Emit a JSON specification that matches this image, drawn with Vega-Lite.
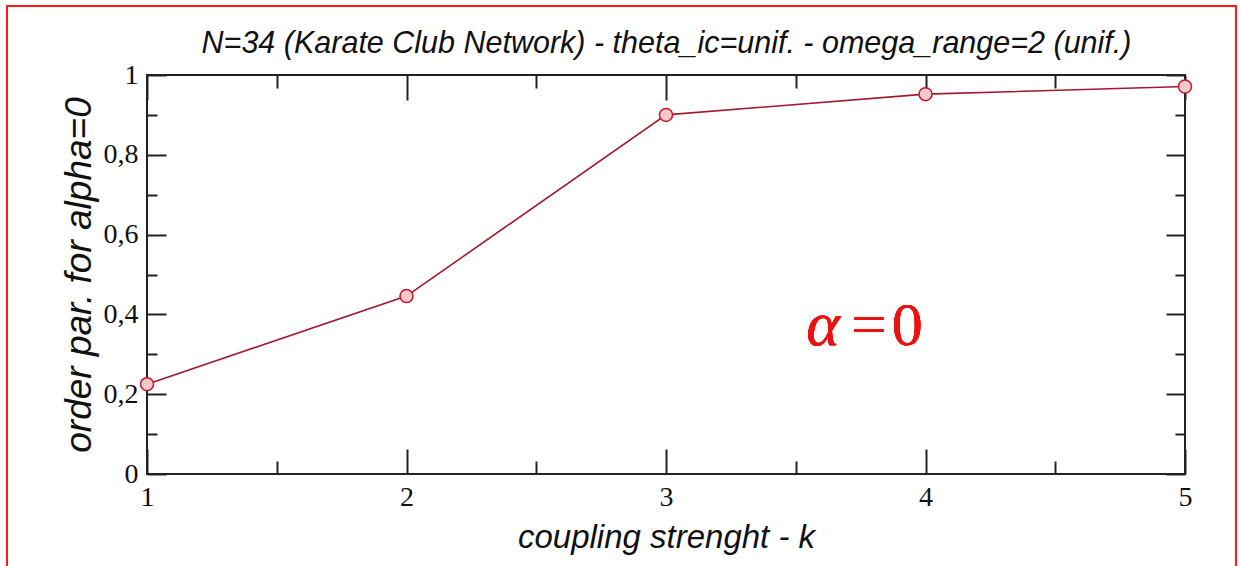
{
  "$schema": "https://vega.github.io/schema/vega-lite/v6.json",
  "width": 1038,
  "height": 399,
  "autosize": {"type": "none"},
  "padding": {"left": 147, "top": 75, "right": 56, "bottom": 92},
  "background": "white",
  "config": {
    "locale": {"number": {"decimal": ",", "thousands": ".", "grouping": [3], "currency": ["", ""]}},
    "view": {"stroke": "#222222", "strokeWidth": 2},
    "axis": {
      "grid": false,
      "domain": false,
      "labelFlush": false,
      "tickColor": "#222222",
      "tickWidth": 2,
      "labelFont": "Liberation Serif",
      "labelFontSize": 28,
      "labelColor": "#111",
      "titleFont": "Liberation Sans",
      "titleFontStyle": "italic",
      "titleFontWeight": "normal",
      "titleColor": "#111"
    }
  },
  "data": {
    "values": [
      {"k": 1, "r": 0.225},
      {"k": 2, "r": 0.446},
      {"k": 3, "r": 0.9},
      {"k": 4, "r": 0.952},
      {"k": 5, "r": 0.971}
    ]
  },
  "layer": [
    {
      "mark": {"type": "line", "color": "#a3182a", "strokeWidth": 1.6},
      "encoding": {
        "x": {
          "field": "k",
          "type": "quantitative",
          "scale": {"domain": [1, 5], "nice": false, "zero": false},
          "axis": {
            "orient": "bottom",
            "values": [1, 1.5, 2, 2.5, 3, 3.5, 4, 4.5, 5],
            "format": ".1~f",
            "labelExpr": "datum.value % 1 === 0 ? datum.label : ''",
            "tickSize": {"condition": {"test": "datum.value % 1 === 0", "value": -25}, "value": -13},
            "labelPadding": 34,
            "title": "coupling strenght - k",
            "titleFontSize": 33,
            "titleBaseline": "alphabetic",
            "titleY": 73
          }
        },
        "y": {
          "field": "r",
          "type": "quantitative",
          "scale": {"domain": [0, 1], "nice": false},
          "axis": {
            "orient": "left",
            "values": [0, 0.1, 0.2, 0.3, 0.4, 0.5, 0.6, 0.7, 0.8, 0.9, 1],
            "format": ".1~f",
            "labelExpr": "round(datum.value * 10) % 2 === 0 ? datum.label : ''",
            "tickSize": {"condition": {"test": "round(datum.value * 10) % 2 === 0", "value": -19}, "value": -10},
            "labelPadding": 28,
            "title": "order par. for alpha=0",
            "titleFontSize": 37,
            "titleBaseline": "alphabetic",
            "titleX": -57
          }
        }
      }
    },
    {
      "mark": {"type": "point", "shape": "circle", "filled": true, "size": 170, "fill": "#f3c9c9", "stroke": "#c8142c", "strokeWidth": 1.5, "opacity": 1},
      "encoding": {
        "x": {
          "field": "k",
          "type": "quantitative",
          "axis": {
            "orient": "top",
            "values": [1, 1.5, 2, 2.5, 3, 3.5, 4, 4.5, 5],
            "labels": false,
            "tickSize": {"condition": {"test": "datum.value % 1 === 0", "value": -25}, "value": -13},
            "title": "N=34 (Karate Club Network) - theta_ic=unif. - omega_range=2 (unif.)",
            "titleFontSize": 30.5,
            "titleBaseline": "alphabetic",
            "titleY": -23
          }
        },
        "y": {
          "field": "r",
          "type": "quantitative",
          "axis": {
            "orient": "right",
            "values": [0, 0.1, 0.2, 0.3, 0.4, 0.5, 0.6, 0.7, 0.8, 0.9, 1],
            "labels": false,
            "title": null,
            "tickSize": {"condition": {"test": "round(datum.value * 10) % 2 === 0", "value": -19}, "value": -10}
          }
        }
      }
    },
    {
      "mark": {"type": "text", "text": "α", "font": "Liberation Serif", "fontStyle": "italic", "fontSize": 64, "color": "#ee1111", "align": "left", "baseline": "alphabetic"},
      "encoding": {
        "x": {"datum": 3.54, "type": "quantitative", "axis": null},
        "y": {"datum": 0.323, "type": "quantitative", "axis": null}
      }
    },
    {
      "mark": {"type": "text", "text": "=", "font": "Liberation Serif", "fontSize": 62, "color": "#ee1111", "align": "left", "baseline": "alphabetic"},
      "encoding": {
        "x": {"datum": 3.715, "type": "quantitative", "axis": null},
        "y": {"datum": 0.323, "type": "quantitative", "axis": null}
      }
    },
    {
      "mark": {"type": "text", "text": "0", "font": "Liberation Serif", "fontSize": 62, "color": "#ee1111", "align": "left", "baseline": "alphabetic"},
      "encoding": {
        "x": {"datum": 3.87, "type": "quantitative", "axis": null},
        "y": {"datum": 0.323, "type": "quantitative", "axis": null}
      }
    },
    {
      "mark": {"type": "rect", "fill": null, "stroke": "#ff1a1a", "strokeWidth": 2, "clip": false},
      "encoding": {
        "x": {"datum": 0.4605, "type": "quantitative", "axis": null},
        "x2": {"datum": 5.1965},
        "y": {"datum": 1.1729, "type": "quantitative", "axis": null},
        "y2": {"datum": -0.27}
      }
    }
  ],
  "resolve": {"axis": {"x": "independent", "y": "independent"}}
}
